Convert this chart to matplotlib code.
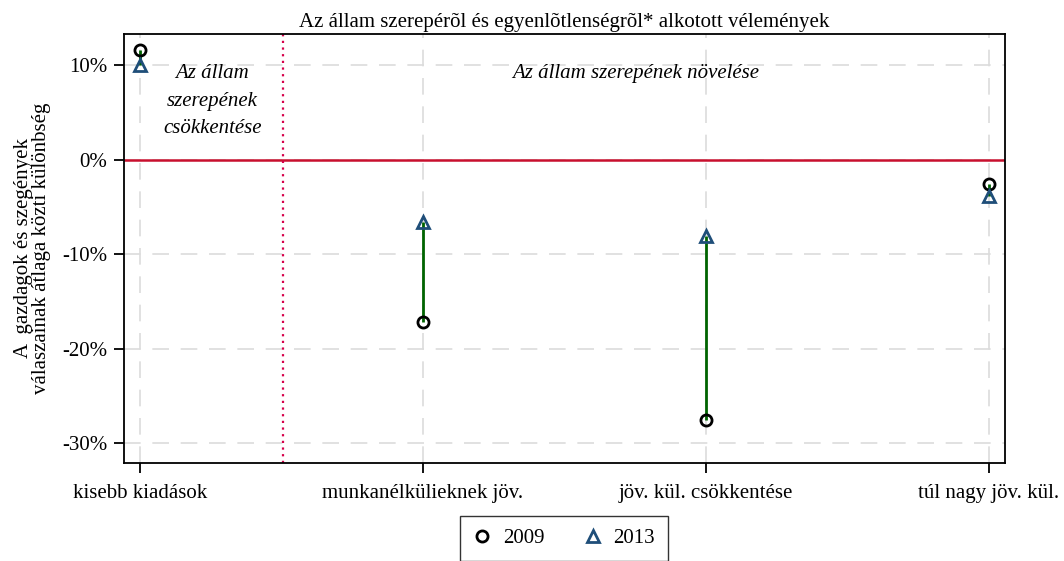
import numpy as np
import matplotlib.pyplot as plt

plt.rcParams['font.family'] = ['Liberation Serif', 'DejaVu Serif']

# kategóriák és a két év értékei (%)
categories = ["kisebb kiadások", "munkanélkülieknek jöv.",
              "jöv. kül. csökkentése", "túl nagy jöv. kül."]
y2009 = [11.6, -17.2, -27.5, -2.6]
y2013 = [10.0, -6.6, -8.1, -3.8]
yticks = [10, 0, -10, -20, -30]

x = np.arange(len(categories))

fig = plt.figure(figsize=(10.64, 5.61), dpi=100)
ax = fig.add_axes([124/1064, 1 - 463/561, (1005 - 124)/1064, (463 - 34)/561])

# rács
for xi in x:
    ax.axvline(xi, color='#dcdcdc', lw=1.2, dashes=(10, 7), zorder=0)
for yt in yticks:
    ax.axhline(yt, color='#dcdcdc', lw=1.2, dashes=(10, 7), zorder=0)

ax.axhline(0, color='#c8102e', lw=1.8, zorder=1)
ax.axvline(0.505, color='#d6004a', lw=1.6, ls=(0, (1, 2)), zorder=1)

# változás a két év között
ax.vlines(x, y2009, y2013, color='#006400', lw=2, zorder=2)
ax.plot(x, y2009, 'o', ms=8, mfc='none', mec='black', mew=2, label='2009', zorder=3)
ax.plot(x, y2013, '^', ms=9, mfc='none', mec='#1f4e79', mew=2, label='2013', zorder=3)

ax.text(0.255, 10.1, "Az állam\nszerepének\ncsökkentése", style='italic',
        fontsize=15, ha='center', va='top', linespacing=1.6)
ax.text(1.75, 10.1, "Az állam szerepének növelése", style='italic',
        fontsize=15, ha='center', va='top')

ax.set_xlim(-0.057, 3.057)
ax.set_ylim(-32.1, 13.3)
ax.set_xticks(x)
ax.set_xticklabels(categories, fontsize=15)
ax.set_yticks(yticks)
ax.set_yticklabels([f"{v}%" for v in yticks], fontsize=15)
ax.tick_params(axis='y', direction='out', length=7, width=1.3, pad=5)
ax.tick_params(axis='x', direction='out', length=7, width=1.3, pad=8)
for s in ax.spines.values():
    s.set_linewidth(1.3)

ax.set_ylabel("A  gazdagok és szegények\nválaszainak átlaga közti különbség",
              fontsize=15, labelpad=8, linespacing=0.9)
ax.set_title("Az állam szerepérõl és egyenlõtlenségrõl* alkotott vélemények",
             fontsize=15, pad=5)

ax.legend(loc='upper center', bbox_to_anchor=(0.499, -0.1), ncol=2,
          fontsize=15, frameon=True, fancybox=False, edgecolor='black',
          handletextpad=0.5, columnspacing=1.8, borderpad=0.6, handlelength=1.0)

fig.savefig("out.png", dpi=100)
